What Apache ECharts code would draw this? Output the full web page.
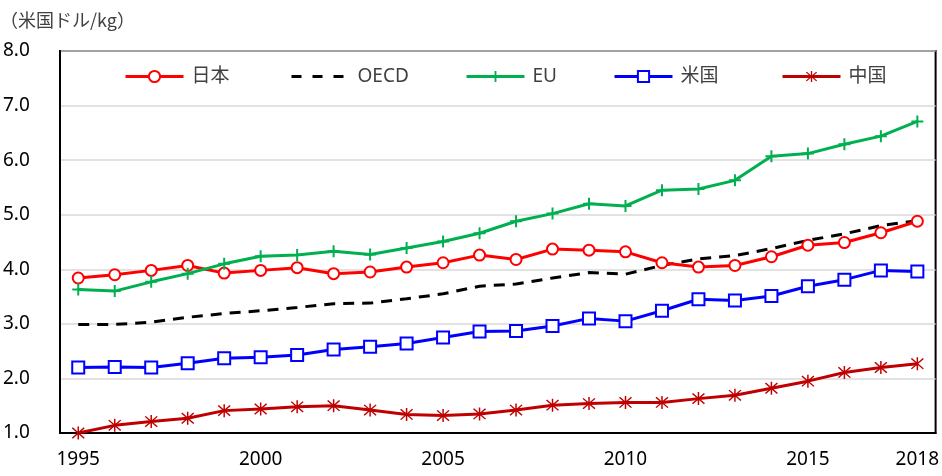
<!DOCTYPE html>
<html>
<head>
<meta charset="utf-8">
<script src="https://cdn.jsdelivr.net/npm/echarts@6/dist/echarts.min.js"></script>
<style>html,body{margin:0;padding:0;background:#fff;}#c{width:942px;height:476px;}</style>
</head>
<body>
<div id="c"></div>
<script>
const years = ['1995','1996','1997','1998','1999','2000','2001','2002','2003','2004','2005','2006','2007','2008','2009','2010','2011','2012','2013','2014','2015','2016','2017','2018'];
const shownYears = ['1995','2000','2005','2010','2015','2018'];
const yTicks = [1, 8, 1]; // min, max, interval
const unitLabel = '（米国ドル/kg）';
const japan = [3.84,3.90,3.98,4.07,3.93,3.98,4.03,3.92,3.95,4.04,4.12,4.26,4.18,4.37,4.35,4.32,4.12,4.04,4.07,4.23,4.44,4.49,4.67,4.88];
const oecd  = [2.99,2.99,3.03,3.12,3.19,3.24,3.30,3.37,3.38,3.46,3.55,3.69,3.73,3.84,3.94,3.91,4.07,4.19,4.25,4.38,4.53,4.65,4.80,4.89];
const eu    = [3.63,3.60,3.77,3.92,4.10,4.24,4.26,4.33,4.27,4.39,4.51,4.66,4.88,5.02,5.20,5.16,5.45,5.47,5.63,6.07,6.12,6.29,6.44,6.71];
const usa   = [2.20,2.21,2.20,2.28,2.37,2.39,2.43,2.53,2.58,2.64,2.75,2.86,2.87,2.96,3.10,3.05,3.24,3.45,3.43,3.51,3.69,3.81,3.98,3.96];
const china = [1.00,1.14,1.21,1.27,1.41,1.44,1.48,1.50,1.42,1.34,1.32,1.35,1.42,1.51,1.54,1.56,1.56,1.63,1.69,1.82,1.95,2.11,2.20,2.27];
const names = ['日本','OECD','EU','米国','中国'];

const plusPath = 'path://M5,0H7V5H12V7H7V12H5V7H0V5H5Z';
const starPath = 'path://M9,0H11V20H9Z M1.3,2.7L2.7,1.3L18.7,17.3L17.3,18.7Z M17.3,1.3L18.7,2.7L2.7,18.7L1.3,17.3Z';

const legendLefts = [119, 285, 460, 608, 776];
const legendFont = {fontFamily:'Noto Sans, Noto Sans CJK JP', fontSize:19, color:'#404040', padding:[0,0,0,3]};

const chart = echarts.init(document.getElementById('c'), null, {renderer:'canvas'});
chart.setOption({
  animation:false,
  backgroundColor:'#fff',
  graphic:[{type:'text', left:0, top:11, style:{text:unitLabel, font:'18px "Noto Sans CJK JP"', fill:'#404040'}}],
  legend: names.map((n,i)=>{
    const l = {data:[n], left:legendLefts[i], top:62, itemWidth:58, itemHeight:14, textStyle:legendFont,
               lineStyle:{width:3}};
    if (n === 'OECD') { l.itemStyle = {opacity:0}; l.lineStyle = {width:3, type:[10,11]}; }
    return l;
  }),
  grid:{left:57, right:5, top:51, bottom:43, show:true, borderColor:'#000', borderWidth:2, containLabel:false},
  xAxis:{
    type:'category', data:years, boundaryGap:true,
    axisLine:{show:true, lineStyle:{color:'#000', width:2}},
    axisTick:{show:false},
    axisLabel:{
      interval:(i,v)=>shownYears.indexOf(v)>=0,
      margin:17, fontFamily:'Noto Sans', fontSize:19, color:'#000'
    },
    splitLine:{show:false}
  },
  yAxis:{
    type:'value', min:yTicks[0], max:yTicks[1], interval:yTicks[2],
    axisLine:{show:true, lineStyle:{color:'#000', width:2}},
    axisTick:{show:false},
    axisLabel:{formatter:v=>v.toFixed(1), align:'left', margin:57, fontFamily:'Noto Sans', fontSize:19, color:'#000'},
    splitLine:{show:true, lineStyle:{color:'#D9D9D9', width:1.5}}
  },
  series:[
    {name:names[1], type:'line', data:oecd, symbol:'none', z:2,
     lineStyle:{color:'#000', width:3, type:[11,8]}, itemStyle:{color:'#000'}},
    {name:names[0], type:'line', data:japan, symbol:'circle', symbolSize:11, z:3,
     lineStyle:{color:'#FF0000', width:3}, itemStyle:{color:'#fff', borderColor:'#FF0000', borderWidth:2}},
    {name:names[2], type:'line', data:eu, symbol:plusPath, symbolSize:12, z:3,
     lineStyle:{color:'#00B050', width:3}, itemStyle:{color:'#00B050'}},
    {name:names[3], type:'line', data:usa, symbol:'rect', symbolSize:12, z:3,
     lineStyle:{color:'#0000FF', width:3}, itemStyle:{color:'#fff', borderColor:'#0000FF', borderWidth:2}},
    {name:names[4], type:'line', data:china, symbol:starPath, symbolSize:13, z:3,
     lineStyle:{color:'#C00000', width:3}, itemStyle:{color:'#C00000'}}
  ]
});
</script>
</body>
</html>
